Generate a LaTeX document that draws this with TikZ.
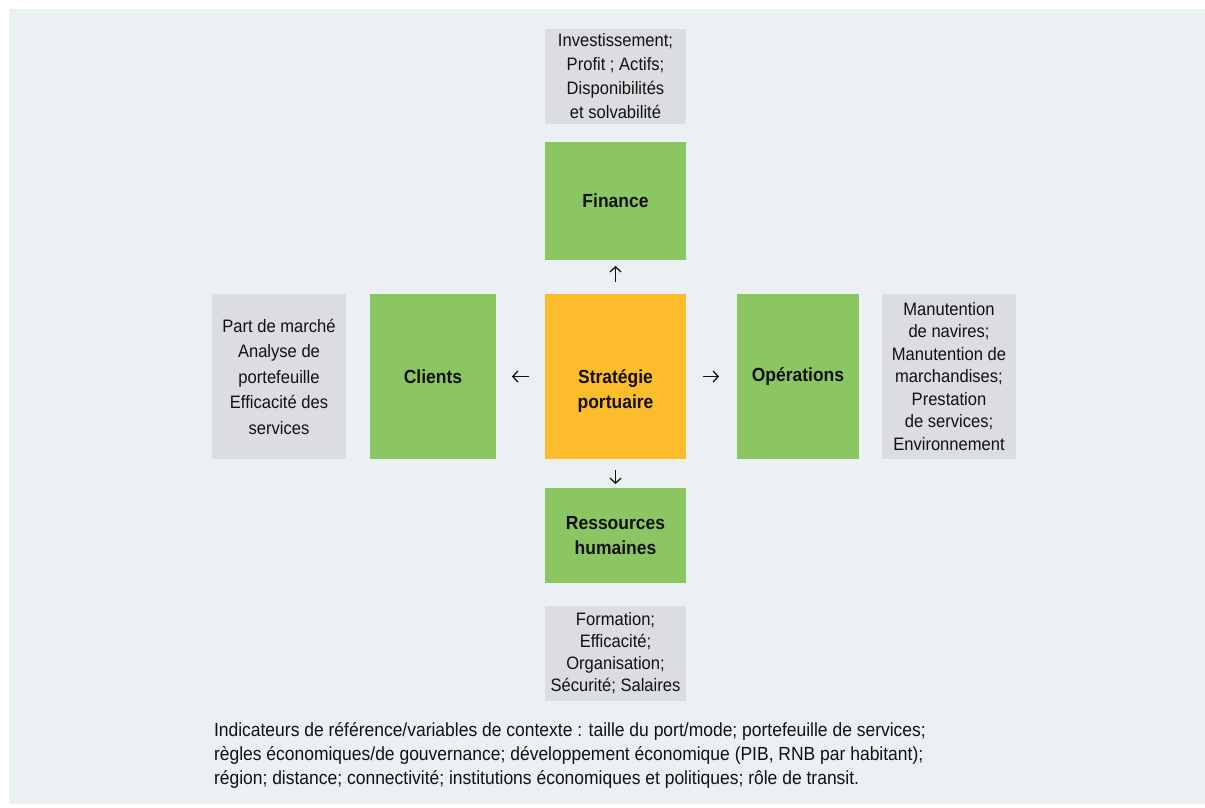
\documentclass[tikz,border=0pt]{standalone}
\usepackage{fontspec}
\setmainfont{Liberation Sans}[FakeStretch=0.92]
\usetikzlibrary{arrows.meta}
\definecolor{bgcol}{HTML}{EBF0F3}
\definecolor{boxgreen}{HTML}{8BC663}
\definecolor{boxorange}{HTML}{FDBC2C}
\definecolor{boxgrey}{HTML}{DCDDE0}
\definecolor{ink}{HTML}{111111}

\begin{document}
\begin{tikzpicture}[%
    x=1pt, y=-1pt,
    every node/.style = {inner sep=0pt, outer sep=0pt, text=ink, align=center},
    box/.style = {fill=boxgreen, font=\fontsize{19}{25}\selectfont\bfseries},
    info/.style = {fill=boxgrey, font=\fontsize{18}{#1}\selectfont},
    every edge/.style = {draw, ink, line width=1.3pt, -{Straight Barb[length=5pt, width=11pt]}}
]
\fill[white] (0,0) rectangle (1205,807);
\useasboundingbox (0,0) rectangle (1205,807);
\fill[bgcol] (9,9) rectangle (1205,804);

% centre column
\node (fininfo) [info=24pt, minimum width=141pt, minimum height=95pt] at (615.5,76.5)
    {Investissement;\\Profit ; Actifs;\\Disponibilités\\ et solvabilité};
\node (fin) [box, minimum width=141pt, minimum height=118pt] at (615.5,201) {Finance};
\node (strat) [box, fill=boxorange, minimum width=141pt, minimum height=165pt] at (615.5,376.5) {};
\node (stratlbl) [box, fill=none] at ([yshift=-14pt]strat.center) {Stratégie\\portuaire};
\node (rh) [box, minimum width=141pt, minimum height=95pt] at (615.5,535.5) {Ressources\\humaines};
\node (rhinfo) [info=22pt, minimum width=141pt, minimum height=95pt] at (615.5,653.5)
    {Formation;\\Efficacité;\\Organisation;\\Sécurité; Salaires};

% left and right
\node (cli) [box, minimum width=126pt, minimum height=165pt] at (433,376.5) {Clients};
\node (cliinfo) [info=25.5pt, minimum width=134pt, minimum height=165pt] at (279,376.5)
    {Part de marché\\Analyse de\\portefeuille\\Efficacité des\\services};
\node (ops) [box, minimum width=122pt, minimum height=165pt] at (798,376.5) {Opérations};
\node (opsinfo) [info=22.5pt, minimum width=134pt, minimum height=165pt] at (949,376.5)
    {Manutention\\de navires;\\Manutention de\\marchandises;\\Prestation\\de services;\\Environnement};

\path
    (strat) edge [shorten <=12pt, shorten >=6pt] (fin)
    (strat) edge [shorten <=11pt, shorten >=4pt] (rh)
    (strat) edge [shorten <=16pt, shorten >=16pt] (cli)
    (strat) edge [shorten <=17pt, shorten >=18pt] (ops)
    ;

\node (note) [anchor=base west, align=left, font=\fontsize{19}{24}\selectfont] at (214,784)
    {Indicateurs de référence/variables de contexte : taille du port/mode; portefeuille de services;\\
     règles économiques/de gouvernance; développement économique (PIB, RNB par habitant);\\
     région; distance; connectivité; institutions économiques et politiques; rôle de transit.};
\end{tikzpicture}
\end{document}
